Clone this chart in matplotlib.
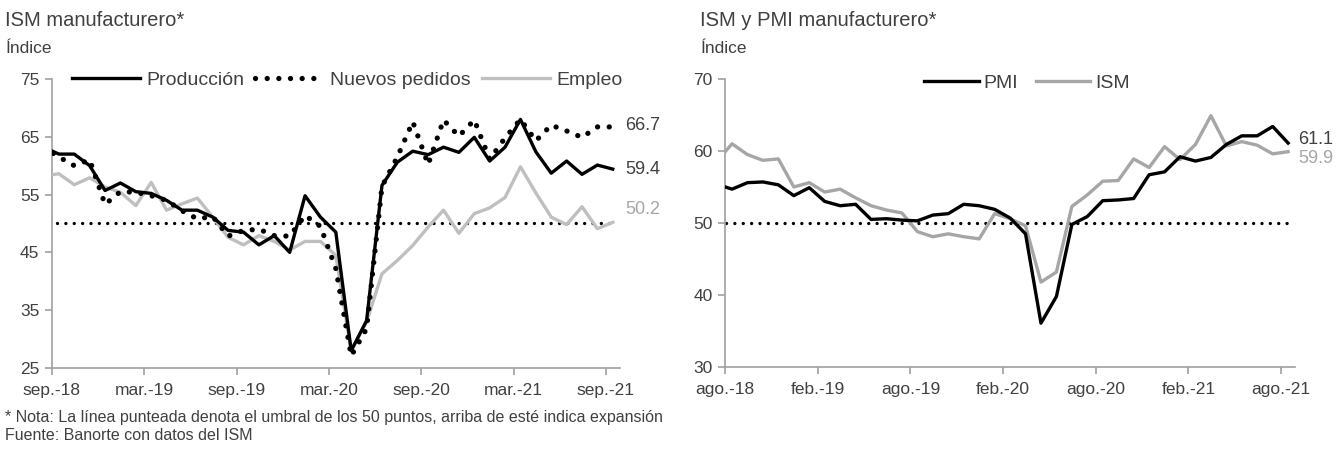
import matplotlib
matplotlib.use("Agg")
import matplotlib.pyplot as plt
import numpy as np

plt.rcParams["font.family"] = ["Liberation Sans", "DejaVu Sans"]

TXT = "#404040"

# ---- left chart: ISM manufacturing sub-indices, ago-18 .. sep-21 (monthly) ----
produccion = [63.2, 62.0, 62.0, 60.0, 55.7, 57.0, 55.5, 55.2, 54.0, 52.3,
              52.3, 51.1, 48.8, 48.5, 46.3, 47.9, 45.0, 54.8, 51.1, 48.5,
              28.0, 33.2, 56.6, 60.6, 62.5, 61.9, 63.2, 62.3, 64.9, 60.8,
              63.2, 68.0, 62.4, 58.7, 60.8, 58.5, 60.1, 59.4]
nuevos_pedidos = [63.2, 61.5, 60.0, 61.0, 53.3, 55.5, 55.4, 54.8, 54.0, 52.2,
                  50.8, 51.2, 47.8, 48.8, 49.0, 47.9, 47.8, 51.4, 49.5, 42.2,
                  27.1, 31.8, 56.4, 61.5, 67.6, 60.2, 67.9, 65.1, 67.9, 61.1,
                  64.8, 68.0, 64.3, 67.0, 66.0, 64.9, 66.7, 66.7]
empleo = [58.2, 58.6, 56.7, 57.9, 56.3, 55.4, 53.1, 57.1, 52.3, 53.4,
          54.4, 51.1, 47.6, 46.3, 47.9, 46.9, 45.4, 46.9, 46.9, 44.5,
          28.0, 33.0, 41.3, 43.6, 46.2, 49.4, 52.3, 48.3, 51.7, 52.7,
          54.5, 59.8, 55.3, 51.1, 49.8, 52.9, 49.1, 50.2]
left_ticks = ["sep.-18", "mar.-19", "sep.-19", "mar.-20", "sep.-20", "mar.-21", "sep.-21"]

# ---- right chart: PMI vs ISM, jul-18 .. ago-21 (monthly) ----
pmi = [55.4, 54.7, 55.6, 55.7, 55.3, 53.8, 54.9, 53.0, 52.4, 52.6,
       50.5, 50.6, 50.4, 50.3, 51.1, 51.3, 52.6, 52.4, 51.9, 50.7,
       48.5, 36.1, 39.8, 49.8, 50.9, 53.1, 53.2, 53.4, 56.7, 57.1,
       59.2, 58.6, 59.1, 60.9, 62.1, 62.1, 63.4, 61.1]
ism = [58.5, 61.0, 59.5, 58.7, 58.9, 55.0, 55.6, 54.3, 54.7, 53.5,
       52.4, 51.8, 51.4, 48.8, 48.1, 48.5, 48.1, 47.8, 51.3, 50.6,
       49.6, 41.8, 43.2, 52.3, 53.9, 55.8, 55.9, 58.9, 57.7, 60.6,
       58.8, 60.9, 64.9, 60.7, 61.3, 60.8, 59.6, 59.9]
right_ticks = ["ago.-18", "feb.-19", "ago.-19", "feb.-20", "ago.-20", "feb.-21", "ago.-21"]

umbral = 50


def style_axes(ax, ylo, yhi, tick_labels):
    for s in ("top", "right"):
        ax.spines[s].set_visible(False)
    for s in ("left", "bottom"):
        ax.spines[s].set_color("#A0A0A0")
        ax.spines[s].set_linewidth(1.2)
    ax.set_xlim(0.55, 37.45)
    ax.set_ylim(ylo, yhi)
    ax.set_yticks(np.arange(ylo, yhi + 1, 10))
    ax.set_xticks(0.55 + 6 * np.arange(len(tick_labels)))
    ax.set_xticklabels(tick_labels)
    ax.tick_params(axis="both", colors="#A0A0A0", labelcolor=TXT, labelsize=12.5,
                   length=5, width=1.2)
    ax.tick_params(axis="x", pad=6)
    ax.tick_params(axis="y", pad=4)


fig = plt.figure(figsize=(13.39, 4.51), dpi=100)

# left panel
ax1 = fig.add_axes([0.0388, 0.184, 0.424, 0.641])
x1 = np.arange(len(produccion))
ax1.plot(x1, produccion, color="black", lw=2.4, label="Producción", zorder=4)
ax1.plot(x1, nuevos_pedidos, color="black", lw=3.8, linestyle=(0, (0.01, 2.2)),
         dash_capstyle="round", label="Nuevos pedidos", zorder=5)
ax1.plot(x1, empleo, color="#BFBFBF", lw=2.4, label="Empleo", zorder=3)
ax1.plot([0.9, 37], [umbral, umbral], color="black", lw=2.4,
         linestyle=(0, (0.01, 2.5)), dash_capstyle="round", zorder=2)
style_axes(ax1, 25, 75, left_ticks)
ax1.text(37.8, nuevos_pedidos[-1] + 0.3, f"{nuevos_pedidos[-1]:.1f}", color=TXT,
         fontsize=13, va="center", clip_on=False)
ax1.text(37.8, produccion[-1], f"{produccion[-1]:.1f}", color=TXT,
         fontsize=13, va="center", clip_on=False)
ax1.text(37.8, empleo[-1] + 2.3, f"{empleo[-1]:.1f}", color="#A6A6A6",
         fontsize=13, va="center", clip_on=False)
leg1 = ax1.legend(loc="lower left", bbox_to_anchor=(0.035, 0.965), ncol=3, frameon=False,
                  fontsize=14, handlelength=3.5, handletextpad=0.35, columnspacing=0.55,
                  borderaxespad=0, borderpad=0)
for t in leg1.get_texts():
    t.set_color(TXT)

# right panel
ax2 = fig.add_axes([0.5415, 0.186, 0.4257, 0.639])
x2 = np.arange(len(pmi))
ax2.plot(x2, pmi, color="black", lw=2.4, label="PMI", zorder=4)
ax2.plot(x2, ism, color="#A6A6A6", lw=2.4, label="ISM", zorder=3)
ax2.plot([0.6, 37.4], [umbral, umbral], color="black", lw=2.4,
         linestyle=(0, (0.01, 2.5)), dash_capstyle="round", zorder=2)
style_axes(ax2, 30, 70, right_ticks)
ax2.text(37.65, pmi[-1] + 0.5, f"{pmi[-1]:.1f}", color=TXT,
         fontsize=13, va="center", clip_on=False)
ax2.text(37.65, ism[-1] - 0.9, f"{ism[-1]:.1f}", color="#A6A6A6",
         fontsize=13, va="center", clip_on=False)
leg2 = ax2.legend(loc="lower center", bbox_to_anchor=(0.53, 0.955), ncol=2, frameon=False,
                  fontsize=14, handlelength=2.8, handletextpad=0.25, columnspacing=0.9,
                  borderaxespad=0, borderpad=0)
for t in leg2.get_texts():
    t.set_color(TXT)

# titles and notes
fig.text(0.004, 0.975, "ISM manufacturero*", fontsize=14.5, color=TXT, va="top")
fig.text(0.004, 0.91, "Índice", fontsize=12.5, color=TXT, va="top")
fig.text(0.523, 0.975, "ISM y PMI manufacturero*", fontsize=14.5, color=TXT, va="top")
fig.text(0.523, 0.91, "Índice", fontsize=12.5, color=TXT, va="top")
fig.text(0.004, 0.075,
         "* Nota: La línea punteada denota el umbral de los 50 puntos, arriba de esté indica expansión",
         fontsize=11.5, color=TXT, va="center")
fig.text(0.004, 0.035, "Fuente: Banorte con datos del ISM", fontsize=11.5, color=TXT, va="center")

fig.savefig("out.png", dpi=100)
